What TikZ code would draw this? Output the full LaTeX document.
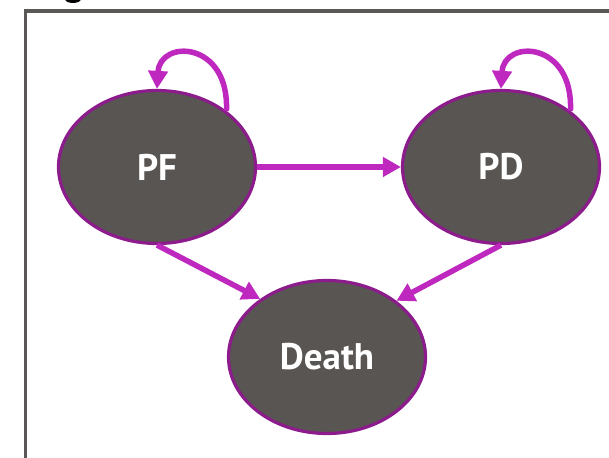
\documentclass[tikz,border=0pt]{standalone}
\usepackage{fontspec}
\setmainfont{PT Sans}
\usetikzlibrary{arrows.meta,shapes.geometric}
\definecolor{statefill}{RGB}{89,85,82}
\definecolor{stateedge}{RGB}{140,28,140}
\definecolor{flow}{RGB}{190,40,190}
\definecolor{framegray}{RGB}{90,87,86}
\begin{document}
\begin{tikzpicture}[x=1pt,y=-1pt,
  state/.style={ellipse, draw=stateedge, line width=3.2pt, fill=statefill,
    minimum width=197pt, minimum height=153pt, inner sep=0pt,
    text=white, font=\fontsize{37}{40}\selectfont\bfseries},
  flowarrow/.style={draw=flow, line width=5.5pt,
    -{Triangle[length=18pt,width=19pt]}}]
\useasboundingbox (0,0) rectangle (609,457);
% frame and clipped heading glyph
\begin{scope}
\clip (0,0) rectangle (609,457);
\fill[black] (73,-1) ellipse [x radius=8, y radius=4];
\draw[framegray, line width=3.5pt] (25.5,470) -- (25.5,11) -- (620,11);
\end{scope}
% states
\node[state] (PF) at (157,167) {PF};
\node[state] (PD) at (501,167) {PD};
\node[state] (Death) at (327,357) {Death};
% transitions
\draw[flowarrow] (PF.east) -- (PD.west);
\draw[flowarrow] (PF.south) -- (Death.139);
\draw[flowarrow] (PD.south) -- (Death.39);
\draw[flowarrow] (PF.39) .. controls +(3,-70) and +(3,-50) .. (PF.north);
\draw[flowarrow] (PD.39) .. controls +(3,-70) and +(3,-50) .. (PD.north);
\end{tikzpicture}
\end{document}
